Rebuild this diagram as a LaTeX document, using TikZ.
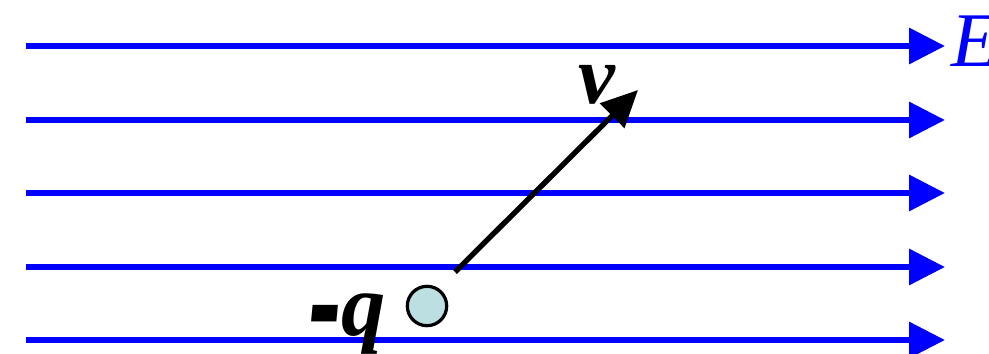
\documentclass[tikz,border=0pt]{standalone}
\usepackage{fontspec}
\setmainfont{Liberation Serif}
\usetikzlibrary{arrows.meta}
\definecolor{fieldblue}{RGB}{0,0,255}
\definecolor{particle}{RGB}{188,224,226}
\begin{document}
\begin{tikzpicture}[x=0.025cm,y=-0.025cm,
  fieldline/.style={draw=fieldblue,line width=4.3pt,-{Triangle[length=25.6pt,width=25pt]}},
  velarrow/.style={draw=black,line width=3.8pt,-{Triangle[length=26pt,width=24pt]}},
  charge/.style={circle,draw=black,line width=2.3pt,fill=particle,minimum size=28pt,inner sep=0pt},
  lbl/.style={inner sep=0pt}]
\useasboundingbox (0,0) rectangle (989,354);
\foreach \i/\y in {1/46,2/120,3/193,4/267,5/340}{
  \coordinate (l\i) at (26,\y);
  \coordinate (r\i) at (945,\y);
  \draw[fieldline] (l\i) -- (r\i);
}
\node[lbl,anchor=base west,text=fieldblue,font=\fontsize{55}{55}\selectfont\itshape] (E) at (951,67) {E};
\node[charge] (q) at (427,306) {};
\coordinate (vs) at (455,272);
\coordinate (ve) at (638,90);
\draw[velarrow] (vs) -- (ve);
\node[lbl,anchor=base west,font=\fontsize{59}{59}\selectfont\bfseries\itshape] (v) at (578,104) {v};
\node[lbl,anchor=base west,font=\fontsize{63}{63}\selectfont\bfseries\itshape] (ql) at (309,336) {\raisebox{-17pt}{\scalebox{1.1}[2.2]{-}}q};
\end{tikzpicture}
\end{document}
